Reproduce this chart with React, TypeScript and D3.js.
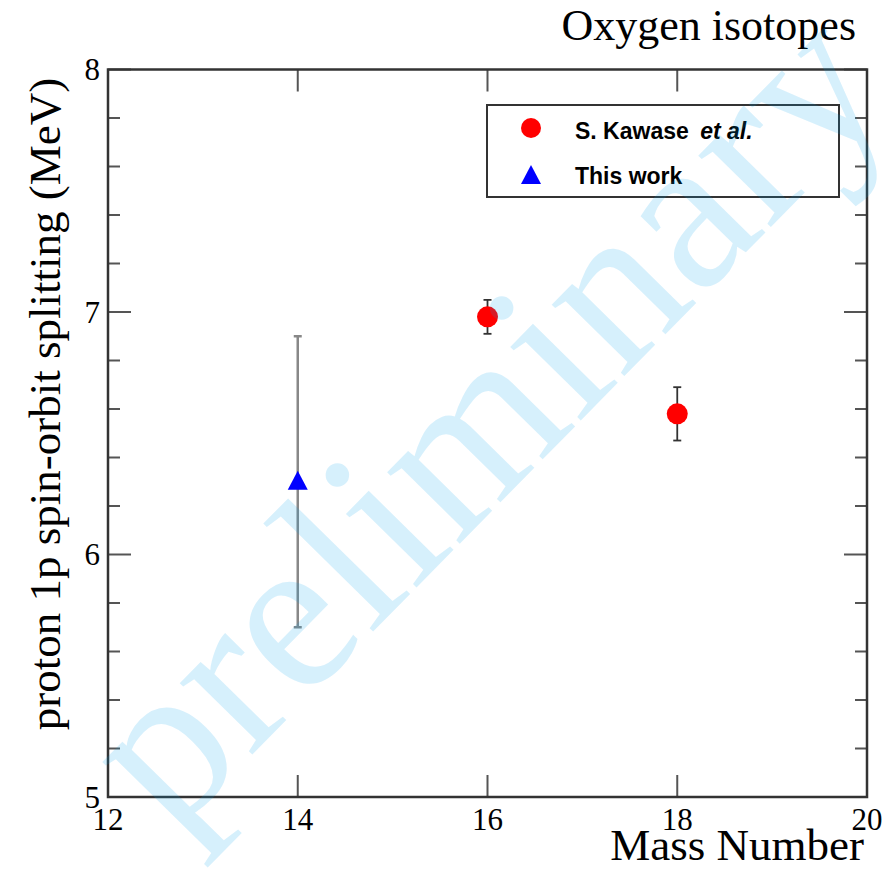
import React from "react";
import * as d3 from "d3";

const xTicks = [12, 14, 16, 18, 20];
const yTicks = [5, 6, 7, 8];
const yMinorTicks = [5.2, 5.4, 5.6, 5.8, 6.2, 6.4, 6.6, 6.8, 7.2, 7.4, 7.6, 7.8];

const kawaseMass = [16, 18];
const kawaseValue = [6.98, 6.58];
const kawaseErr = [0.07, 0.11];

const thisMass = [14];
const thisValue = [6.3];
const thisErr = [0.6];

const W = 888;
const H = 877;
const L = 108, R = 867, T = 69.5, B = 797;

export default function App() {
  const x = d3.scaleLinear().domain([12, 20]).range([L, R]);
  const y = d3.scaleLinear().domain([5, 8]).range([B, T]);
  const serif = "'Liberation Serif', 'Times New Roman', serif";
  const sans = "'Liberation Sans', Arial, sans-serif";

  const tri = (cx: number, cy: number) => {
    const p = d3.path();
    p.moveTo(cx, cy - 11);
    p.lineTo(cx + 10, cy + 8);
    p.lineTo(cx - 10, cy + 8);
    p.closePath();
    return p.toString();
  };

  const axisColor = "#333";
  const tickColor = "#555";

  return (
    <div style={{ position: "absolute", left: 0, top: 0 }}>
      <svg width={W} height={H} style={{ display: "block", background: "#fff" }}>
        <rect x={0} y={0} width={W} height={H} fill="#fff" />
        {/* ticks */}
        {yTicks.map((t) => (
          <g key={"y" + t}>
            <line x1={L} x2={L + 23} y1={y(t)} y2={y(t)} stroke={tickColor} strokeWidth={2} />
            <line x1={R} x2={R - 23} y1={y(t)} y2={y(t)} stroke={tickColor} strokeWidth={2} />
            <text x={100} y={y(t)} dy="0.35em" textAnchor="end" fontFamily={serif} fontSize={31} fill="#000">
              {t}
            </text>
          </g>
        ))}
        {yMinorTicks.map((t) => (
          <g key={"ym" + t}>
            <line x1={L} x2={L + 12} y1={y(t)} y2={y(t)} stroke={tickColor} strokeWidth={2} />
            <line x1={R} x2={R - 12} y1={y(t)} y2={y(t)} stroke={tickColor} strokeWidth={2} />
          </g>
        ))}
        {xTicks.map((t) => (
          <g key={"x" + t}>
            <line x1={x(t)} x2={x(t)} y1={B} y2={B - 22} stroke={tickColor} strokeWidth={2} />
            <line x1={x(t)} x2={x(t)} y1={T} y2={T + 22} stroke={tickColor} strokeWidth={2} />
            <text x={x(t)} y={830} textAnchor="middle" fontFamily={serif} fontSize={31} fill="#000">
              {t}
            </text>
          </g>
        ))}
        <rect x={L} y={T} width={R - L} height={B - T} fill="none" stroke={axisColor} strokeWidth={2.5} />

        {/* legend */}
        <rect x={487} y={105} width={352} height={92} fill="#fff" stroke={axisColor} strokeWidth={2} />
        <circle cx={531} cy={128} r={10} fill="#ff0000" />
        <path d={tri(531, 176)} fill="#0000ff" />
        <text x={575} y={139} fontFamily={sans} fontWeight="bold" fontSize={23} fill="#000">
          S. Kawase <tspan fontStyle="italic" dx={5}>et al.</tspan>
        </text>
        <text x={575} y={184} fontFamily={sans} fontWeight="bold" fontSize={23} fill="#000">
          This work
        </text>

        {/* error bars */}
        {thisMass.map((m, i) => (
          <g key={"te" + i} stroke="#888" strokeWidth={2.5}>
            <line x1={x(m)} x2={x(m)} y1={y(thisValue[i] - thisErr[i])} y2={y(thisValue[i] + thisErr[i])} />
            <line x1={x(m) - 4} x2={x(m) + 4} y1={y(thisValue[i] + thisErr[i])} y2={y(thisValue[i] + thisErr[i])} />
            <line x1={x(m) - 4} x2={x(m) + 4} y1={y(thisValue[i] - thisErr[i])} y2={y(thisValue[i] - thisErr[i])} />
          </g>
        ))}
        {kawaseMass.map((m, i) => (
          <g key={"ke" + i} stroke="#333" strokeWidth={1.8}>
            <line x1={x(m)} x2={x(m)} y1={y(kawaseValue[i] - kawaseErr[i])} y2={y(kawaseValue[i] + kawaseErr[i])} />
            <line x1={x(m) - 4} x2={x(m) + 4} y1={y(kawaseValue[i] + kawaseErr[i])} y2={y(kawaseValue[i] + kawaseErr[i])} />
            <line x1={x(m) - 4} x2={x(m) + 4} y1={y(kawaseValue[i] - kawaseErr[i])} y2={y(kawaseValue[i] - kawaseErr[i])} />
          </g>
        ))}
        {/* points */}
        {kawaseMass.map((m, i) => (
          <circle key={"kp" + i} cx={x(m)} cy={y(kawaseValue[i])} r={10.5} fill="#ff0000" />
        ))}
        {thisMass.map((m, i) => (
          <path key={"tp" + i} d={tri(x(m), y(thisValue[i]))} fill="#0000ff" />
        ))}

        {/* titles */}
        <text x={856} y={40} textAnchor="end" fontFamily={serif} fontSize={44} fill="#000">
          Oxygen isotopes
        </text>
        <text x={864} y={860} textAnchor="end" fontFamily={serif} fontSize={45} fill="#000">
          Mass Number
        </text>
        <text
          transform={`translate(60, 404) rotate(-90)`}
          textAnchor="middle"
          fontFamily={serif}
          fontSize={45}
          fill="#000"
        >
          proton 1p spin-orbit splitting (MeV)
        </text>

        {/* watermark */}
        <text
          transform={`translate(498, 432) rotate(-45.5)`}
          textAnchor="middle"
          dominantBaseline="middle"
          fontFamily={serif}
          fontSize={222}
          fill="rgb(0,161,236)"
          fillOpacity={0.16}
        >
          preliminary
        </text>
      </svg>
    </div>
  );
}
